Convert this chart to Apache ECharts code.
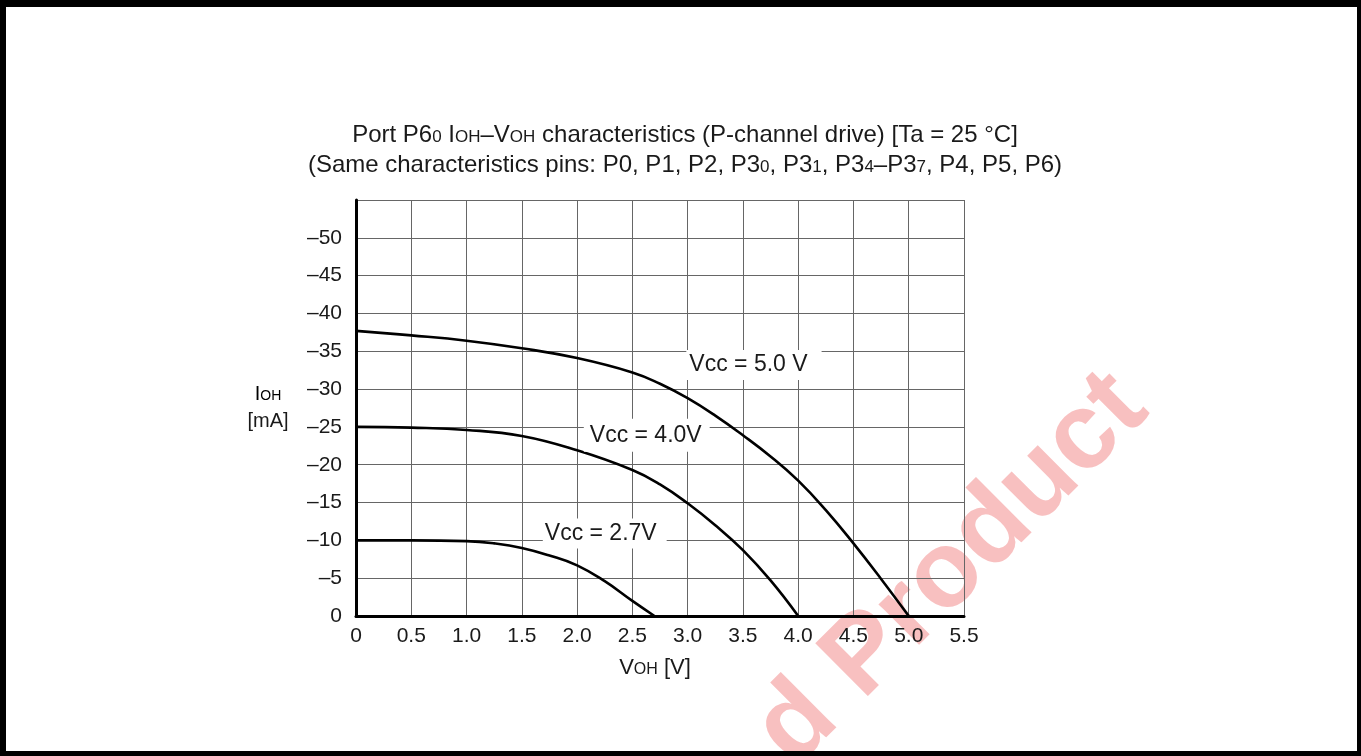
<!DOCTYPE html>
<html><head><meta charset="utf-8">
<script src="https://cdn.jsdelivr.net/npm/echarts@6/dist/echarts.min.js"></script>
<style>html,body{margin:0;padding:0;background:#fff}#c{width:1361px;height:756px}</style>
</head><body><div id="c"></div>
<script>
// VOH [V] and IOH [mA] readings for each supply voltage
const vcc50_V = [0, 0.5, 1.0, 1.5, 2.0, 2.5, 2.75, 3.0, 3.25, 3.5, 3.75, 4.0, 4.25, 4.5, 4.75, 5.0];
const vcc50_I = [-37.7, -37.1, -36.4, -35.4, -34.1, -32.2, -30.7, -28.8, -26.5, -23.9, -21.1, -17.9, -14.0, -9.6, -4.9, 0];
const vcc40_V = [0, 0.5, 1.0, 1.5, 2.0, 2.5, 2.75, 3.0, 3.25, 3.5, 3.75, 4.0];
const vcc40_I = [-25.0, -24.9, -24.6, -23.8, -21.9, -19.3, -17.4, -14.9, -12.0, -8.7, -4.7, 0];
const vcc27_V = [0, 0.5, 1.0, 1.25, 1.5, 1.75, 2.0, 2.25, 2.5, 2.7];
const vcc27_I = [-10.0, -10.0, -9.9, -9.6, -9.0, -8.0, -6.7, -4.6, -2.0, 0];

const seriesNames = ['Vcc = 5.0 V', 'Vcc = 4.0V', 'Vcc = 2.7V'];
const labelAnchors = [[3.6, -33.2], [2.63, -23.9], [2.25, -10.9]];

const xTickStep = 0.5, xMin = 0, xMax = 5.5;
const yTickStep = 5, yMin = -55, yMax = 0;

const FONT = '"Liberation Sans", Arial, Helvetica, sans-serif';
const TXT = '#1a1a1a';
function rich(big, small, lh) {
  return {
    a: {fontSize: big, fontWeight: 'normal', fontFamily: FONT, color: TXT, lineHeight: lh, verticalAlign: 'bottom'},
    s: {fontSize: small, fontWeight: 'normal', fontFamily: FONT, color: TXT, lineHeight: lh, verticalAlign: 'bottom', padding: [0, 0, 1, 0]}
  };
}

function pairs(xs, ys) { return xs.map((x, i) => [x, ys[i]]); }

function curve(name, xs, ys, anchor, pad) {
  return {
    name: name, type: 'line', data: pairs(xs, ys),
    smooth: 0.45, showSymbol: false, symbol: 'none',
    lineStyle: {color: '#000', width: 2.6}, z: 3,
    markPoint: {
      symbol: 'rect', symbolSize: 1, itemStyle: {color: 'rgba(0,0,0,0)'},
      label: {show: true, formatter: name, fontSize: 23, fontFamily: FONT, color: TXT,
              backgroundColor: '#fff', padding: pad},
      data: [{coord: anchor}]
    }
  };
}

const chart = echarts.init(document.getElementById('c'), null, {renderer: 'canvas'});
chart.setOption({
  backgroundColor: '#fff',
  animation: false,
  title: {
    left: 680, top: 112, textAlign: 'center',
    text: '{a|Port P6}{s|0}{a| I}{s|OH}{a|–V}{s|OH}{a| characteristics (P-channel drive) [Ta = 25 °C]}\n' +
          '{a|(Same characteristics pins: P0, P1, P2, P3}{s|0}{a|, P3}{s|1}{a|, P3}{s|4}{a|–P3}{s|7}{a|, P4, P5, P6)}',
    textStyle: {fontWeight: 'normal', rich: rich(24, 17, 30)}
  },
  grid: {left: 356, right: 397, top: 200, bottom: 140},
  xAxis: {
    type: 'value', min: xMin, max: xMax, interval: xTickStep,
    axisLine: {show: true, onZero: false, lineStyle: {color: '#000', width: 3}},
    axisTick: {show: false},
    splitLine: {show: true, lineStyle: {color: '#666', width: 1}},
    axisLabel: {fontSize: 21, fontFamily: FONT, color: TXT, margin: 10,
                formatter: v => v === 0 ? '0' : v.toFixed(1)},
    name: '{a|V}{s|OH}{a| [V]}', nameLocation: 'middle', nameGap: 33,
    nameTextStyle: {rich: rich(22, 16, 30), padding: [0, 10, 0, 0]}
  },
  yAxis: {
    type: 'value', min: yMin, max: yMax, interval: yTickStep, inverse: true,
    axisLine: {show: true, onZero: false, lineStyle: {color: '#000', width: 3}},
    axisTick: {show: false},
    splitLine: {show: true, lineStyle: {color: '#666', width: 1}},
    axisLabel: {fontSize: 21, fontFamily: FONT, color: TXT, margin: 14,
                formatter: v => v === yMin ? '' : (v === 0 ? '0' : '–' + Math.abs(v))}
  },
  series: [
    curve(seriesNames[0], vcc50_V, vcc50_I, labelAnchors[0], [4, 14, 3, 3]),
    curve(seriesNames[1], vcc40_V, vcc40_I, labelAnchors[1], [5, 8, 5, 6]),
    curve(seriesNames[2], vcc27_V, vcc27_I, labelAnchors[2], [4, 10, 3, 2])
  ],
  graphic: [
    {type: 'text', z: -10, x: 812, y: 786, rotation: Math.PI / 4,
     style: {text: 'd Product', font: 'bold 108px ' + FONT, fill: '#f8c0c0',
             textAlign: 'left', textVerticalAlign: 'bottom'}},
    {type: 'text', x: 268, y: 392, style: {text: '{a|I}{s|OH}', rich: rich(20, 14, 24), textAlign: 'center', textVerticalAlign: 'middle'}},
    {type: 'text', x: 268, y: 421, style: {text: '[mA]', font: '20px ' + FONT, fill: TXT, textAlign: 'center', textVerticalAlign: 'middle'}},
    {type: 'rect', z: 100, shape: {x: 0, y: 0, width: 1361, height: 7}, style: {fill: '#000'}},
    {type: 'rect', z: 100, shape: {x: 0, y: 0, width: 6, height: 756}, style: {fill: '#000'}},
    {type: 'rect', z: 100, shape: {x: 1357, y: 0, width: 4, height: 756}, style: {fill: '#000'}},
    {type: 'rect', z: 100, shape: {x: 0, y: 751, width: 1361, height: 5}, style: {fill: '#000'}}
  ]
});
</script></body></html>
